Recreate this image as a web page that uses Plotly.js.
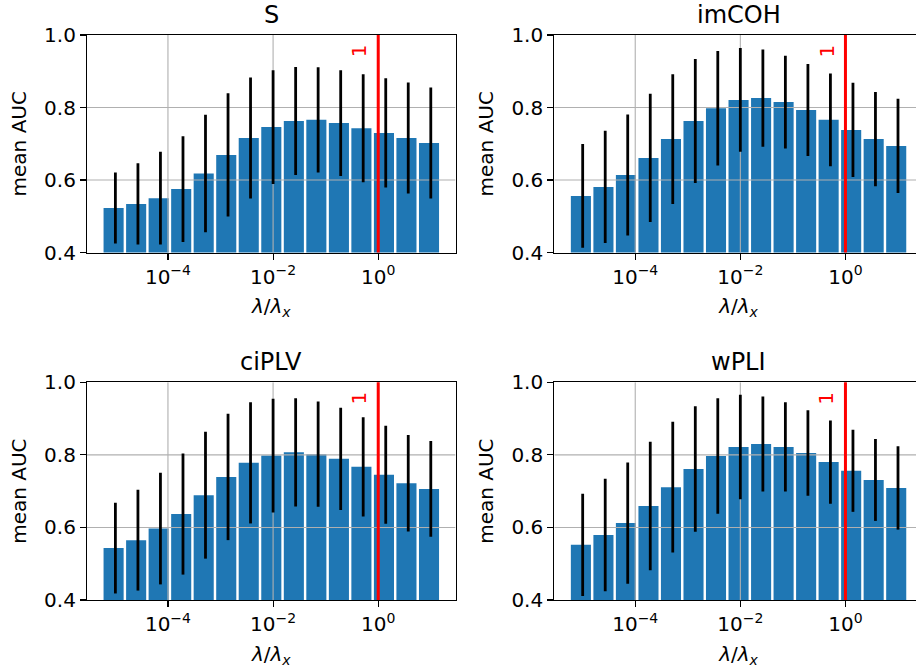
<!DOCTYPE html>
<html><head><meta charset="utf-8">
<script src="https://cdn.plot.ly/plotly-3.0.1.min.js"></script>
<style>html,body{margin:0;padding:0;overflow:hidden;background:#fff}#chart{width:924px;height:671px}</style>
</head><body><div id="chart"></div><script>
// x values: log10(lambda / lambda_x)
const logRatio = [-5, -4.571, -4.143, -3.714, -3.286, -2.857, -2.429, -2, -1.571, -1.143, -0.714, -0.286, 0.143, 0.571, 1];
const panelNames = ['S', 'imCOH', 'ciPLV', 'wPLI'];

const meanS = [0.523, 0.534, 0.550, 0.575, 0.618, 0.669, 0.716, 0.746, 0.763, 0.766, 0.757, 0.743, 0.730, 0.716, 0.702];
const errS  = [0.098, 0.112, 0.128, 0.146, 0.162, 0.170, 0.167, 0.157, 0.149, 0.145, 0.146, 0.149, 0.151, 0.153, 0.153];

const meanImCOH = [0.556, 0.581, 0.614, 0.661, 0.713, 0.763, 0.798, 0.821, 0.826, 0.815, 0.793, 0.766, 0.738, 0.713, 0.694];
const errImCOH  = [0.143, 0.155, 0.167, 0.177, 0.179, 0.171, 0.158, 0.143, 0.134, 0.128, 0.127, 0.128, 0.130, 0.130, 0.130];

const meanCiPLV = [0.543, 0.565, 0.597, 0.637, 0.689, 0.739, 0.778, 0.798, 0.807, 0.802, 0.789, 0.767, 0.745, 0.722, 0.706];
const errCiPLV  = [0.125, 0.139, 0.154, 0.167, 0.175, 0.174, 0.167, 0.157, 0.149, 0.145, 0.141, 0.137, 0.135, 0.133, 0.132];

const meanWPLI = [0.552, 0.579, 0.612, 0.659, 0.711, 0.761, 0.797, 0.822, 0.830, 0.822, 0.805, 0.780, 0.756, 0.731, 0.709];
const errWPLI  = [0.141, 0.155, 0.167, 0.177, 0.180, 0.173, 0.159, 0.144, 0.131, 0.123, 0.118, 0.115, 0.113, 0.113, 0.115];

const xTickVals = [-4, -2, 0];
const xTickText = ['10<sup>\u22124</sup>', '10<sup>\u22122</sup>', '10<sup>0</sup>'];
const yTickVals = [0.4, 0.6, 0.8, 1.0];
const yTickText = ['0.4', '0.6', '0.8', '1.0'];
const markerLabel = '1';
const markerX = 0; // lambda = lambda_x

const means = [meanS, meanImCOH, meanCiPLV, meanWPLI];
const errs = [errS, errImCOH, errCiPLV, errWPLI];

const FONT = 'DejaVu Sans';
const W = 924, H = 671;
const X_RANGE = [-5.54, 1.47];
const Y_RANGE = [0.4, 1.0];
const xDomains = [[87 / W, 455.5 / W], [554.3 / W, 922.7 / W], [87 / W, 455.5 / W], [554.3 / W, 922.7 / W]];
const yDomains = [[1 - 252.5 / H, 1 - 35 / H], [1 - 252.5 / H, 1 - 35 / H], [1 - 600 / H, 1 - 382.3 / H], [1 - 600 / H, 1 - 382.3 / H]];

// grid lines at the tick positions (drawn above bars, below error bars)
const gridX = [], gridY = [];
xTickVals.forEach(v => { gridX.push(v, v, null); gridY.push(Y_RANGE[0], Y_RANGE[1], null); });
yTickVals.slice(1, 3).forEach(v => { gridX.push(X_RANGE[0], X_RANGE[1], null); gridY.push(v, v, null); });

const traces = [];
const layout = {
  width: W, height: H,
  margin: {l: 0, r: 0, t: 0, b: 0},
  paper_bgcolor: '#fff', plot_bgcolor: '#fff',
  font: {family: FONT, color: '#000', size: 20},
  showlegend: false,
  shapes: [], annotations: []
};

for (let i = 0; i < 4; i++) {
  const s = i === 0 ? '' : String(i + 1);
  const xa = 'x' + s, ya = 'y' + s;
  traces.push({
    type: 'bar', x: logRatio, y: means[i], xaxis: xa, yaxis: ya,
    width: 0.382, offset: -0.225,
    marker: {color: '#1f77b4', line: {width: 0}}, hoverinfo: 'skip'
  });
  traces.push({
    type: 'scatter', mode: 'lines', x: gridX, y: gridY, xaxis: xa, yaxis: ya,
    line: {color: '#b0b0b0', width: 1.1}, hoverinfo: 'skip', connectgaps: false
  });
  traces.push({
    type: 'scatter', mode: 'markers', x: logRatio, y: means[i], xaxis: xa, yaxis: ya,
    marker: {size: 1, color: 'rgba(0,0,0,0)'},
    error_y: {type: 'data', array: errs[i], visible: true, color: '#000', thickness: 2.8, width: 0},
    hoverinfo: 'skip'
  });
  layout['xaxis' + s] = {
    domain: xDomains[i], anchor: ya, range: X_RANGE,
    tickmode: 'array', tickvals: xTickVals, ticktext: xTickText,
    ticks: 'outside', ticklen: 6, tickwidth: 1.1, tickcolor: '#000',
    showline: true, linecolor: '#000', linewidth: 1.1, mirror: true,
    showgrid: false, zeroline: false,
    tickfont: {family: FONT, size: 20, color: '#000'},
    title: {text: '<i>\u03bb</i>/<i>\u03bb</i><sub><i>x</i></sub>', font: {family: FONT, size: 20, color: '#000'}, standoff: 11}
  };
  layout['yaxis' + s] = {
    domain: yDomains[i], anchor: xa, range: Y_RANGE,
    tickmode: 'array', tickvals: yTickVals, ticktext: yTickText,
    ticks: 'outside', ticklen: 6, tickwidth: 1.1, tickcolor: '#000',
    showline: true, linecolor: '#000', linewidth: 1.1, mirror: true,
    showgrid: false, zeroline: false,
    tickfont: {family: FONT, size: 20, color: '#000'},
    title: {text: 'mean AUC', font: {family: FONT, size: 20, color: '#000'}, standoff: 12}
  };
  layout.shapes.push({
    type: 'line', xref: xa, yref: ya + ' domain', x0: markerX, x1: markerX, y0: 0, y1: 1,
    line: {color: '#ff0000', width: 3}, layer: 'above'
  });
  layout.annotations.push({
    text: markerLabel, xref: xa, yref: ya, x: markerX - 0.36, y: 0.956,
    textangle: -90, showarrow: false, xanchor: 'center', yanchor: 'middle',
    font: {family: FONT, size: 20, color: '#ff0000'}
  });
  layout.annotations.push({
    text: panelNames[i], xref: xa + ' domain', yref: ya + ' domain', x: 0.5, y: 1,
    xanchor: 'center', yanchor: 'bottom', yshift: 4, showarrow: false,
    font: {family: FONT, size: 24, color: '#000'}
  });
}

Plotly.newPlot('chart', traces, layout, {displayModeBar: false, staticPlot: true});
</script></body></html>
